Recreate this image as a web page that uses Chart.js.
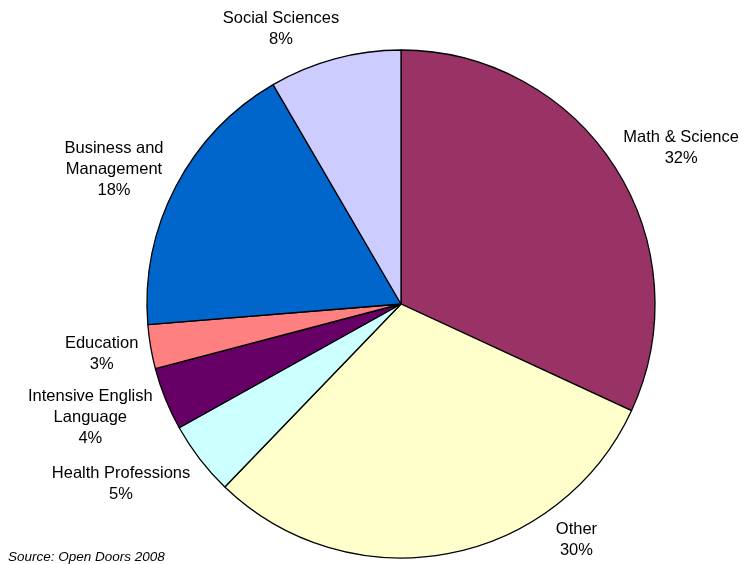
<!DOCTYPE html>
<html>
<head>
<meta charset="utf-8">
<script src="https://cdn.jsdelivr.net/npm/chart.js@4.4.0/dist/chart.umd.min.js"></script>
<style>
  html, body { margin: 0; padding: 0; background: #fff; }
  #wrap { position: relative; width: 744px; height: 564px; }
</style>
</head>
<body>
<div id="wrap"><canvas id="pie" width="744" height="564"></canvas></div>
<script>
const fields = ['Math & Science', 'Other', 'Health Professions', 'Intensive English Language', 'Education', 'Business and Management', 'Social Sciences'];
const shares = [31.9, 30.3, 4.7, 4.0, 2.8, 17.9, 8.4];
const fieldLabels = [
    ['Math & Science'],
    ['Other'],
    ['Health Professions'],
    ['Intensive English', 'Language'],
    ['Education'],
    ['Business and', 'Management'],
    ['Social Sciences']
];
const sliceColors = ['#993366', '#FFFFCC', '#CCFFFF', '#660066', '#FF8080', '#0066CC', '#CCCCFF'];

// small hand moves of the labels, like in the original
const labelNudge = [[9, -3], [123, -44], [-16, 6], [-8, 3], [-3, 2], [-9, 2], [-36, 0]];

const outsideLabels = {
    id: 'outsideLabels',
    afterDraw(chart) {
        const ctx = chart.ctx;
        const meta = chart.getDatasetMeta(0);
        const lineH = 21;
        ctx.save();
        ctx.font = '16.5px "Liberation Sans", Arial, sans-serif';
        ctx.fillStyle = '#000';
        ctx.textAlign = 'center';
        ctx.textBaseline = 'middle';
        meta.data.forEach(function (arc, i) {
            const p = arc.getProps(['x', 'y', 'startAngle', 'endAngle', 'outerRadius'], true);
            const mid = (p.startAngle + p.endAngle) / 2;
            const dx = Math.cos(mid), dy = Math.sin(mid);
            const lines = fieldLabels[i].concat([Math.round(shares[i]) + '%']);
            let w = 0;
            lines.forEach(function (l) { w = Math.max(w, ctx.measureText(l).width); });
            const h = lines.length * lineH;
            const r = p.outerRadius + 10;
            const cx = p.x + r * dx + dx * w / 2 + labelNudge[i][0];
            const cy = p.y + r * dy + dy * h / 2 + labelNudge[i][1];
            lines.forEach(function (l, k) {
                ctx.fillText(l, cx, cy - h / 2 + lineH / 2 + k * lineH);
            });
        });
        ctx.font = 'italic 13.5px "Liberation Sans", Arial, sans-serif';
        ctx.textAlign = 'left';
        ctx.textBaseline = 'alphabetic';
        ctx.fillText('Source: Open Doors 2008', 8, 561);
        ctx.restore();
    }
};

new Chart(document.getElementById('pie'), {
    type: 'pie',
    data: {
        labels: fields,
        datasets: [{
            data: shares,
            backgroundColor: sliceColors,
            borderColor: '#000',
            borderWidth: 1.3
        }]
    },
    options: {
        responsive: false,
        animation: false,
        radius: 254,
        layout: { padding: { left: 146, right: 88, top: 49, bottom: 5 } },
        plugins: {
            legend: { display: false },
            tooltip: { enabled: false }
        }
    },
    plugins: [outsideLabels]
});
</script>
</body>
</html>
